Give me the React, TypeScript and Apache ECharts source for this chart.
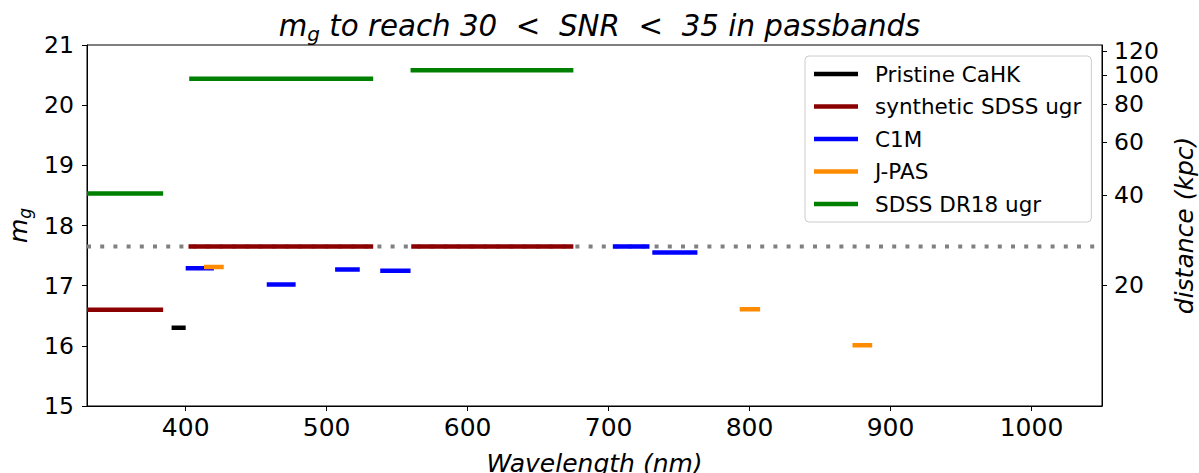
import React, { useEffect, useRef } from "react";
import * as echarts from "echarts";

// Passband segments: [start nm, end nm, g magnitude]
const pristineCaHK: number[][] = [[390, 400, 16.3]];
const syntheticSDSS: number[][] = [
  [330, 384, 16.6],
  [402, 533, 17.65],
  [560, 675, 17.65],
];
const c1m: number[][] = [
  [400, 420, 17.29],
  [457.5, 478, 17.02],
  [506, 523.5, 17.27],
  [538, 559.5, 17.25],
  [703, 729, 17.65],
  [731, 763, 17.55],
];
const jpas: number[][] = [
  [413, 427, 17.31],
  [793, 807.5, 16.61],
  [873, 887, 16.01],
];
const sdssDR18: number[][] = [
  [330, 384, 18.53],
  [402.5, 533, 20.44],
  [559.5, 675, 20.58],
];

const limitMag = 17.65;
const xRange = [330, 1050];
const xTicks = [400, 500, 600, 700, 800, 900, 1000];
const yRange = [15, 21];
const distanceTicks = [20, 40, 60, 80, 100, 120]; // kpc
const absMag = 0.5; // absolute g magnitude used for the distance scale

const groups = [
  { name: "Pristine CaHK", color: "#000000", data: pristineCaHK },
  { name: "synthetic SDSS ugr", color: "#8b0000", data: syntheticSDSS },
  { name: "C1M", color: "#0000ff", data: c1m },
  { name: "J-PAS", color: "#ff8c00", data: jpas },
  { name: "SDSS DR18 ugr", color: "#008000", data: sdssDR18 },
];

const FONT = "DejaVu Sans";

const kpcToMag = (d: number) => 5 * Math.log10(d * 100) + absMag;
const magToKpc = (m: number) => Math.pow(10, (m - absMag) / 5) / 100;

export default function App() {
  const ref = useRef<HTMLDivElement>(null);

  useEffect(() => {
    document.body.style.margin = "0";
    if (!ref.current) return;
    const chart = echarts.init(ref.current, undefined, { renderer: "svg" });

    const series: any[] = [
      {
        type: "line",
        name: "limit",
        data: [
          [xRange[0], limitMag],
          [xRange[1], limitMag],
        ],
        symbol: "none",
        lineStyle: { color: "#808080", width: 4, type: [4, 9.2], cap: "butt" },
        z: 1,
        silent: true,
      },
    ];
    groups.forEach((g, gi) => {
      g.data.forEach((seg) => {
        series.push({
          type: "line",
          name: g.name,
          color: g.color,
          itemStyle: { color: g.color },
          data: [
            [seg[0], seg[2]],
            [seg[1], seg[2]],
          ],
          symbol: "none",
          lineStyle: { color: g.color, width: 4.5, cap: "butt" },
          z: 2 + gi,
        });
      });
    });

    const titleText = { fontFamily: FONT, fontStyle: "italic", fontWeight: "normal", color: "#000", lineHeight: 36 };
    const nameText = { fontFamily: FONT, fontStyle: "italic", fontWeight: "normal", color: "#000", lineHeight: 30 };

    chart.setOption({
      animation: false,
      title: {
        left: "center",
        top: 3,
        text: "{i|m}{s|g}{i| to reach 30  <  SNR  <  35 in passbands}",
        textStyle: {
          fontWeight: "normal",
          rich: {
            i: { ...titleText, fontSize: 29.3 },
            s: { ...titleText, fontSize: 20, verticalAlign: "bottom" },
          },
        },
      },
      legend: {
        orient: "vertical",
        left: 805,
        top: 56,
        data: groups.map((g) => ({ name: g.name, icon: "rect" })),
        itemWidth: 44,
        itemHeight: 4.5,
        itemGap: 10.5,
        padding: [7, 10, 7, 9],
        borderColor: "#cccccc",
        borderWidth: 1,
        borderRadius: 4,
        backgroundColor: "rgba(255,255,255,0.8)",
        textStyle: {
          fontFamily: FONT,
          fontSize: 21.5,
          color: "#000",
          padding: [0, 0, 0, 12],
        },
        selectedMode: false,
      },
      grid: {
        left: 87,
        right: 97,
        top: 45,
        bottom: 67,
        outerBoundsMode: "none",
        show: true,
        borderColor: "#000",
        borderWidth: 1,
      },
      xAxis: {
        type: "value",
        min: xRange[0],
        max: xRange[1],
        name: "Wavelength (nm)",
        nameLocation: "middle",
        nameGap: 42,
        nameTextStyle: { ...nameText, fontSize: 25 },
        axisLine: { show: true, lineStyle: { color: "#000" } },
        axisTick: { show: true, length: 5, lineStyle: { color: "#000" }, customValues: xTicks },
        axisLabel: {
          fontFamily: FONT,
          fontSize: 25,
          color: "#000",
          margin: 9,
          customValues: xTicks,
          formatter: (v: number) => String(v),
        },
        splitLine: { show: false },
      },
      yAxis: [
        {
          type: "value",
          min: yRange[0],
          max: yRange[1],
          interval: 1,
          name: "{i|m}{s|g}",
          nameLocation: "middle",
          nameRotate: 90,
          nameGap: 51,
          nameTextStyle: {
            rich: {
              i: { ...nameText, fontSize: 25 },
              s: { ...nameText, fontSize: 17, verticalAlign: "bottom" },
            },
          },
          axisLine: { show: true, lineStyle: { color: "#000" } },
          axisTick: { show: true, length: 5, lineStyle: { color: "#000" } },
          axisLabel: { fontFamily: FONT, fontSize: 23.5, color: "#000", margin: 13 },
          splitLine: { show: false },
        },
        {
          type: "value",
          position: "right",
          min: yRange[0],
          max: yRange[1],
          name: "distance (kpc)",
          nameLocation: "middle",
          nameRotate: 90,
          nameGap: 63,
          nameTextStyle: { ...nameText, fontSize: 25 },
          axisLine: { show: true, lineStyle: { color: "#000" } },
          axisTick: {
            show: true,
            length: 5,
            lineStyle: { color: "#000" },
            customValues: distanceTicks.map(kpcToMag),
          },
          axisLabel: {
            fontFamily: FONT,
            fontSize: 23.5,
            lineHeight: 20,
            color: "#000",
            margin: 12,
            customValues: distanceTicks.map(kpcToMag),
            formatter: (v: number) => String(Math.round(magToKpc(v))),
          },
          splitLine: { show: false },
        },
      ],
      series,
    });

    return () => chart.dispose();
  }, []);

  return <div ref={ref} style={{ width: 1199, height: 473 }} />;
}
